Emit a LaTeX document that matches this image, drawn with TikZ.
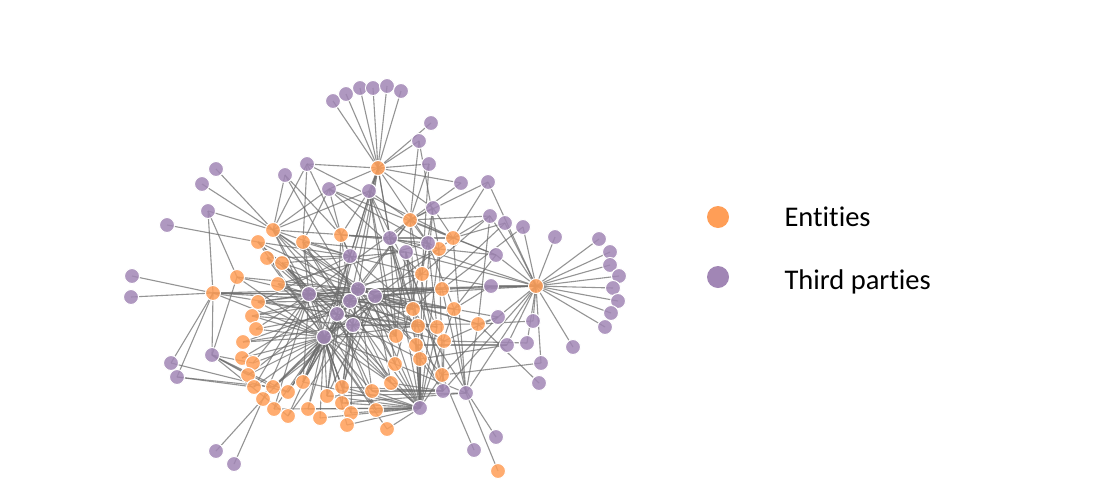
\documentclass[tikz,border=0pt]{standalone}
\usepackage{fontspec}
\setmainfont{Carlito}[Ligatures={NoCommon}]
\usetikzlibrary{backgrounds}
\definecolor{entc}{RGB}{255,158,87}
\definecolor{tpc}{RGB}{161,134,181}
\newcommand\myhub[2]{\foreach \bb in {#2} {\draw[lnk] (#1.center) -- (\bb.center);}}
\tikzset{
  nd/.style={circle, minimum size=15pt, inner sep=0pt, draw=white, line width=1pt, fill opacity=0.85},
  ent/.style={nd, fill=entc},
  tpn/.style={nd, fill=tpc},
  lnk/.style={draw=black!58, line width=1.1pt, opacity=0.72},
  legdot/.style={circle, minimum size=22pt, inner sep=0pt, draw=none},
  legtxt/.style={anchor=base west, font=\fontsize{28.5}{34}\selectfont, text=black}
}
\begin{document}
\begin{tikzpicture}[x=1pt,y=-1pt]
\useasboundingbox (0,0) rectangle (1111,496);
% entities
\foreach \n/\x/\y in {E1/378/168, E2/410/220, E3/273/230, E4/258/242, E5/303/242, E6/341/235, E7/267/258, E8/282/263, E9/237/277, E10/278/284, E11/213/293, E12/258/302, E13/252/316, E14/256/329, E15/243/342, E16/242/358, E17/253/363, E18/248/375, E19/254/387, E20/273/387, E21/288/392, E22/303/382, E23/263/399, E24/274/409, E25/288/416, E26/308/409, E27/320/418, E28/327/396, E29/342/387, E30/342/403, E31/351/413, E32/347/425, E33/372/391, E34/376/410, E35/387/429, E36/391/383, E37/395/364, E38/396/336, E39/416/345, E40/420/359, E41/442/375, E42/444/341, E43/437/327, E44/418/326, E45/413/309, E46/454/309, E47/478/324, E48/442/289, E49/422/274, E50/439/249, E51/453/238, E52/536/286, E53/498/471}
  {\node[ent] (\n) at (\x,\y) {};}
% third parties
\foreach \n/\x/\y in {T1/333/101, T2/346/94, T3/360/88, T4/373/88, T5/387/86, T6/401/91, T7/431/123, T8/419/141, T9/429/164, T10/461/183, T11/488/182, T12/307/164, T13/285/175, T14/216/169, T15/202/184, T16/208/211, T17/167/225, T18/329/189, T19/369/191, T20/433/208, T21/490/216, T22/505/223, T23/523/227, T24/555/237, T25/390/238, T26/428/243, T27/406/252, T28/496/255, T29/350/256, T30/132/276, T31/131/297, T32/309/294, T33/358/289, T34/375/296, T35/350/301, T36/337/314, T37/353/325, T38/324/337, T39/491/286, T40/498/317, T41/533/321, T42/507/345, T43/527/343, T44/573/347, T45/541/363, T46/539/383, T47/599/239, T48/610/252, T49/610/265, T50/619/276, T51/613/288, T52/618/301, T53/611/313, T54/605/327, T55/212/355, T56/171/363, T57/177/377, T58/443/391, T59/466/393, T60/420/408, T61/496/437, T62/474/450, T63/216/451, T64/234/464}
  {\node[tpn] (\n) at (\x,\y) {};}
\begin{scope}[on background layer]
\fill[white] (0,0) rectangle (1111,496);
\myhub{E1}{T1,T2,T3,T4,T5,T6,T7,T9,T10,T12,T19,T18,T29,T25,T33,T38,T60,T36,T26,T20,T8,T35}
\myhub{E52}{T47,T48,T49,T50,T51,T52,T53,T54,T21,T22,T23,T24,T28,T39,T40,T41,T42,T43,T44,T45,T11,T32,T33,T34,T27,T59,T25,T58}
\myhub{E11}{T30,T31,T56,T57,T55,T16,T32,T34,T35,T33,T38,T36}
\myhub{E3}{T14,T15,T16,T18,T13,T12,T32,T33,T34,T35,T38,T29,T25,T37,T19}
\myhub{E4}{T17,T32,T38,T36,T29,T34}
\myhub{E9}{T16,T32,T38,T33,T55}
\myhub{E2}{T20,T8,T9,T10,T11,T19,T25,T26,T28,T21,T32,T36,T38,T58,T60}
\myhub{E6}{T18,T13,T19,T29,T26,T36,T25,T60,T35,T12}
\myhub{E5}{T18,T12,T29,T32,T33,T37,T27,T38,T60}
\myhub{E51}{T11,T20,T21,T22,T25,T12,T38,T59,T28,T18}
\myhub{E50}{T25,T28,T8,T18,T58,T33,T60}
\myhub{E49}{T21,T18,T29,T20,T39,T32,T38,T60,T9}
\myhub{E48}{T32,T33,T35,T39,T23,T59,T34}
\myhub{E46}{T32,T33,T34,T35,T26,T28,T39,T40,T59,T60}
\myhub{E45}{T32,T33,T34,T35,T25,T19,T27,T29,T61,T60,T22,T37}
\myhub{E47}{T33,T34,T37,T40,T41,T46,T59,T21}
\myhub{E44}{T34,T35,T36,T27,T58,T60,T38}
\myhub{E43}{T36,T37,T26,T19,T60,T32}
\myhub{E42}{T36,T40,T43,T58,T34}
\myhub{E41}{T34,T27,T40,T45,T58,T60,T62}
\myhub{E40}{T37,T42,T58,T60,T25,T20}
\myhub{E39}{T42,T58,T60,T33}
\myhub{E38}{T32,T35,T25,T27,T38,T19,T60,T33,T34}
\myhub{E37}{T26,T13,T19,T59,T60,T38,T33}
\myhub{E36}{T32,T34,T37,T38,T58,T60,T35}
\myhub{E33}{T38,T33,T58,T60,T36}
\myhub{E34}{T36,T60,T38,T32}
\myhub{E35}{T60,T38}
\myhub{E29}{T33,T34,T58,T38,T60,T32}
\myhub{E30}{T35,T59,T60,T38,T33}
\myhub{E28}{T36,T29,T59,T38,T60,T34}
\myhub{E31}{T37,T60,T38}
\myhub{E32}{T60,T38}
\myhub{E22}{T32,T33,T35,T36,T29,T38,T60}
\myhub{E26}{T38,T60,T36}
\myhub{E27}{T38,T60}
\myhub{E24}{T38,T60,T32}
\myhub{E25}{T38,T55,T34}
\myhub{E23}{T63,T64,T38,T32}
\myhub{E21}{T56,T55,T38,T35,T33}
\myhub{E20}{T55,T57,T38,T37,T34}
\myhub{E19}{T57,T38,T32}
\myhub{E18}{T38,T55,T33}
\myhub{E17}{T38,T32,T55}
\myhub{E16}{T38,T33}
\myhub{E15}{T38,T37,T34}
\myhub{E14}{T38,T36,T32}
\myhub{E13}{T38,T35,T37,T33}
\myhub{E12}{T38,T35,T36,T29,T32,T33}
\myhub{E10}{T33,T36,T26,T60,T32}
\myhub{E8}{T33,T36,T27,T60,T32}
\myhub{E7}{T29,T35,T38,T32}
\myhub{E53}{T59}
\end{scope}
% legend
\node[legdot, fill=entc] (LE) at (718,217) {};
\node[legdot, fill=tpc] (LT) at (718,277) {};
\node[legtxt] (LEt) at (781,226) {Entities};
\node[legtxt] (LTt) at (781,289) {Third parties};
\end{tikzpicture}
\end{document}
